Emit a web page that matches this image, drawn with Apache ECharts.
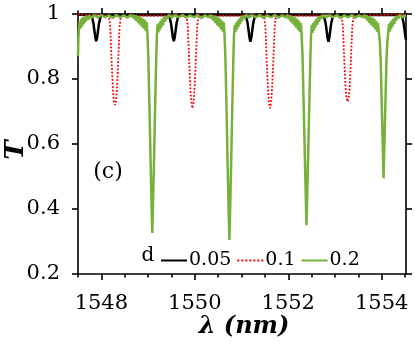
<!DOCTYPE html>
<html>
<head>
<meta charset="utf-8">
<script src="https://cdn.jsdelivr.net/npm/echarts@6/dist/echarts.min.js"></script>
<style>html,body{margin:0;padding:0;background:#fff}#c{width:415px;height:359px}</style>
</head>
<body>
<div id="c"></div>
<script>
// ---- data (λ in nm, T) ----
const xTickLabels = [1548, 1550, 1552, 1554];
const xMinorTicks = [1547.5, 1548.5, 1549, 1549.5, 1550.5, 1551, 1551.5, 1552.5, 1553, 1553.5, 1554.5];
const legendNames = ['0.05', '0.1', '0.2'];

const black005 = [
 [1547.5,0.998],[1547.78,0.997],[1547.8,0.99],[1547.83,0.972],[1547.85,0.95],[1547.87,0.928],[1547.89,0.916],[1547.91,0.928],[1547.93,0.95],[1547.95,0.972],[1547.98,0.99],[1548.0,0.997],
 [1549.44,0.997],[1549.46,0.99],[1549.49,0.972],[1549.51,0.95],[1549.53,0.928],[1549.55,0.916],[1549.57,0.928],[1549.59,0.95],[1549.61,0.972],[1549.64,0.99],[1549.66,0.997],
 [1551.08,0.997],[1551.1,0.99],[1551.13,0.972],[1551.15,0.95],[1551.17,0.928],[1551.19,0.915],[1551.21,0.928],[1551.23,0.95],[1551.25,0.972],[1551.28,0.99],[1551.3,0.997],
 [1552.75,0.997],[1552.77,0.99],[1552.8,0.972],[1552.82,0.95],[1552.84,0.928],[1552.86,0.915],[1552.88,0.928],[1552.9,0.95],[1552.92,0.972],[1552.95,0.99],[1552.97,0.997],
 [1554.42,0.997],[1554.44,0.99],[1554.47,0.972],[1554.49,0.95],[1554.51,0.928],[1554.52,0.92]
];

const red01 = [
 [1547.5,0.999],
 [1548.14,0.995],[1548.17,0.985],[1548.19,0.96],[1548.21,0.89],[1548.23,0.82],[1548.25,0.76],[1548.27,0.73],[1548.29,0.72],[1548.31,0.73],[1548.33,0.76],[1548.35,0.82],[1548.37,0.89],[1548.39,0.96],[1548.41,0.985],[1548.44,0.995],
 [1549.8,0.995],[1549.83,0.985],[1549.85,0.96],[1549.87,0.89],[1549.89,0.82],[1549.91,0.76],[1549.93,0.725],[1549.95,0.71],[1549.97,0.725],[1549.99,0.76],[1550.01,0.82],[1550.03,0.89],[1550.05,0.96],[1550.07,0.985],[1550.1,0.995],
 [1551.46,0.995],[1551.49,0.985],[1551.51,0.96],[1551.53,0.89],[1551.55,0.82],[1551.57,0.76],[1551.59,0.725],[1551.61,0.71],[1551.63,0.725],[1551.65,0.76],[1551.67,0.82],[1551.69,0.89],[1551.71,0.96],[1551.73,0.985],[1551.76,0.995],
 [1553.12,0.995],[1553.15,0.985],[1553.17,0.96],[1553.19,0.89],[1553.21,0.82],[1553.23,0.765],[1553.25,0.74],[1553.27,0.73],[1553.29,0.74],[1553.31,0.765],[1553.33,0.82],[1553.35,0.89],[1553.37,0.96],[1553.39,0.985],[1553.42,0.995],
 [1554.52,0.999]
];

const green02 = [
 [1547.5,0.87],[1547.51,0.93],[1547.52,0.955],[1547.535,0.975],[1547.55,0.955],[1547.565,0.985],[1547.58,0.96],[1547.6,0.99],[1547.62,0.968],[1547.64,0.992],[1547.66,0.975],[1547.68,0.995],[1547.71,0.982],[1547.74,0.996],[1547.77,0.988],
 [1547.85,0.996],[1547.93,0.989],[1548.0,0.997],[1548.08,0.99],[1548.16,0.996],[1548.24,0.988],[1548.32,0.997],[1548.4,0.99],[1548.48,0.996],[1548.56,0.989],[1548.63,0.997],
 [1548.67,0.99],[1548.69,0.997],[1548.71,0.984],[1548.73,0.996],[1548.75,0.978],[1548.77,0.995],[1548.79,0.972],[1548.81,0.993],[1548.83,0.967],[1548.85,0.99],[1548.87,0.96],[1548.89,0.986],[1548.91,0.955],[1548.93,0.982],[1548.95,0.948],[1548.97,0.975],[1548.985,0.94],
 [1549.005,0.87],[1549.03,0.71],[1549.055,0.54],[1549.075,0.41],[1549.09,0.326],[1549.105,0.41],[1549.125,0.54],[1549.15,0.71],[1549.175,0.87],[1549.19,0.94],
 [1549.205,0.968],[1549.22,0.943],[1549.235,0.972],[1549.25,0.95],[1549.265,0.978],[1549.28,0.958],[1549.3,0.985],[1549.32,0.966],[1549.34,0.99],[1549.36,0.976],[1549.38,0.994],[1549.41,0.985],[1549.44,0.997],
 [1549.5,0.989],[1549.58,0.996],[1549.66,0.99],[1549.74,0.997],[1549.82,0.989],[1549.9,0.996],[1549.98,0.99],[1550.06,0.997],[1550.14,0.988],[1550.22,0.996],[1550.29,0.99],
 [1550.32,0.99],[1550.34,0.997],[1550.36,0.985],[1550.38,0.996],[1550.4,0.979],[1550.42,0.995],[1550.44,0.972],[1550.46,0.993],[1550.48,0.966],[1550.5,0.99],[1550.52,0.96],[1550.54,0.986],[1550.56,0.953],[1550.58,0.98],[1550.6,0.946],[1550.62,0.974],[1550.635,0.94],
 [1550.655,0.865],[1550.68,0.7],[1550.705,0.52],[1550.725,0.39],[1550.74,0.305],[1550.755,0.39],[1550.775,0.52],[1550.8,0.7],[1550.825,0.865],[1550.84,0.94],
 [1550.855,0.966],[1550.87,0.944],[1550.885,0.973],[1550.9,0.952],[1550.915,0.979],[1550.93,0.96],[1550.95,0.986],[1550.97,0.968],[1550.99,0.991],[1551.01,0.978],[1551.03,0.995],[1551.06,0.986],[1551.09,0.997],
 [1551.15,0.989],[1551.23,0.996],[1551.31,0.99],[1551.39,0.997],[1551.47,0.988],[1551.55,0.996],[1551.63,0.99],[1551.71,0.997],[1551.79,0.989],[1551.87,0.996],[1551.94,0.99],
 [1551.97,0.99],[1551.99,0.997],[1552.01,0.984],[1552.03,0.996],[1552.05,0.977],[1552.07,0.994],[1552.09,0.971],[1552.11,0.992],[1552.13,0.965],[1552.15,0.989],[1552.17,0.958],[1552.19,0.985],[1552.21,0.951],[1552.23,0.979],[1552.25,0.944],[1552.27,0.972],[1552.285,0.938],
 [1552.305,0.875],[1552.33,0.72],[1552.355,0.56],[1552.375,0.44],[1552.39,0.35],[1552.405,0.44],[1552.425,0.56],[1552.45,0.72],[1552.475,0.875],[1552.49,0.94],
 [1552.505,0.967],[1552.52,0.942],[1552.535,0.972],[1552.55,0.95],[1552.565,0.978],[1552.58,0.959],[1552.6,0.985],[1552.62,0.967],[1552.64,0.99],[1552.66,0.977],[1552.68,0.994],[1552.71,0.986],[1552.74,0.997],
 [1552.8,0.989],[1552.88,0.996],[1552.96,0.99],[1553.04,0.997],[1553.12,0.988],[1553.2,0.996],[1553.28,0.99],[1553.36,0.997],[1553.44,0.989],[1553.52,0.996],[1553.59,0.99],
 [1553.62,0.99],[1553.64,0.997],[1553.66,0.985],[1553.68,0.996],[1553.7,0.978],[1553.72,0.994],[1553.74,0.972],[1553.76,0.992],[1553.78,0.966],[1553.8,0.989],[1553.82,0.96],[1553.84,0.985],[1553.86,0.953],[1553.88,0.979],[1553.9,0.946],[1553.92,0.972],[1553.94,0.942],
 [1553.96,0.915],[1553.98,0.85],[1554.005,0.7],[1554.025,0.58],[1554.04,0.495],[1554.055,0.58],[1554.075,0.7],[1554.1,0.85],[1554.12,0.915],[1554.14,0.945],
 [1554.155,0.968],[1554.17,0.946],[1554.185,0.974],[1554.2,0.953],[1554.215,0.98],[1554.23,0.961],[1554.25,0.986],[1554.27,0.969],[1554.29,0.991],[1554.31,0.979],[1554.33,0.995],[1554.36,0.987],[1554.39,0.997],[1554.45,0.99],[1554.52,0.996]
];

// ---- chart ----
const FONT = 'DejaVu Serif';
const X_MIN = 1547.5, X_MAX = 1554.52;
const axisLine = {show: true, lineStyle: {color: '#000', width: 1.6}};

function xAx(pos, major, labels) {
  return {
    type: 'value', gridIndex: 0, position: pos, min: X_MIN, max: X_MAX,
    axisLine: major ? axisLine : {show: false},
    axisTick: {show: true, inside: false, length: major ? 6 : 3.5,
               customValues: major ? xTickLabels : xMinorTicks,
               lineStyle: {color: '#000', width: 1.6}},
    axisLabel: labels ? {show: true, customValues: xTickLabels, fontFamily: FONT, fontSize: 21,
                         color: '#000', margin: 19, formatter: v => String(v)} : {show: false},
    splitLine: {show: false}, minorTick: {show: false}
  };
}
function yAx(pos, labels) {
  return {
    type: 'value', gridIndex: 0, position: pos, min: 0.2, max: 1, interval: 0.2,
    axisLine: axisLine,
    axisTick: {show: true, inside: false, length: 6, lineStyle: {color: '#000', width: 1.6}},
    axisLabel: labels ? {show: true, fontFamily: FONT, fontSize: 21, color: '#000', margin: 18} : {show: false},
    splitLine: {show: false}
  };
}

const chart = echarts.init(document.getElementById('c'), null, {renderer: 'canvas'});
chart.setOption({
  animation: false,
  backgroundColor: '#fff',
  grid: {left: 78, right: 9, top: 14, bottom: 85, containLabel: false},
  xAxis: [xAx('bottom', true, true), xAx('bottom', false, false), xAx('top', true, false), xAx('top', false, false)],
  yAxis: [yAx('left', true), yAx('right', false)],
  legend: {
    data: legendNames, left: 155, top: 246, itemWidth: 26, itemHeight: 14, itemGap: 5,
    itemStyle: {opacity: 0},
    textStyle: {fontFamily: FONT, fontSize: 19, color: '#000', padding: [0, 0, 0, -3]}
  },
  series: [
    {name: legendNames[0], type: 'line', data: black005, symbol: 'none', z: 2,
     lineStyle: {color: '#000', width: 2.5}, itemStyle: {color: '#000'}},
    {name: legendNames[1], type: 'line', data: red01, symbol: 'none', z: 2,
     lineStyle: {color: '#ff0000', width: 1.8, type: 'dotted'}, itemStyle: {color: '#ff0000'}},
    {name: legendNames[2], type: 'line', data: green02, symbol: 'none', z: 3,
     lineStyle: {color: '#76b13a', width: 2.5}, itemStyle: {color: '#76b13a'}}
  ],
  graphic: [
    {type: 'text', x: 108, y: 172, style: {text: '(c)', font: '22px "DejaVu Serif"', fill: '#000', align: 'center', verticalAlign: 'middle', textAlign: 'center', textVerticalAlign: 'middle'}},
    {type: 'text', x: 148, y: 256, style: {text: 'd', font: '20px "DejaVu Serif"', fill: '#000', align: 'center', verticalAlign: 'middle', textAlign: 'center', textVerticalAlign: 'middle'}},
    {type: 'text', x: 244, y: 327, style: {text: 'λ (nm)', font: 'italic bold 24px "DejaVu Serif"', fill: '#000', align: 'center', verticalAlign: 'middle', textAlign: 'center', textVerticalAlign: 'middle'}},
    {type: 'text', x: 16, y: 150, rotation: Math.PI / 2, style: {text: 'T', font: 'italic bold 26px "DejaVu Serif"', fill: '#000', align: 'center', verticalAlign: 'middle', textAlign: 'center', textVerticalAlign: 'middle'}}
  ]
});
</script>
</body>
</html>
